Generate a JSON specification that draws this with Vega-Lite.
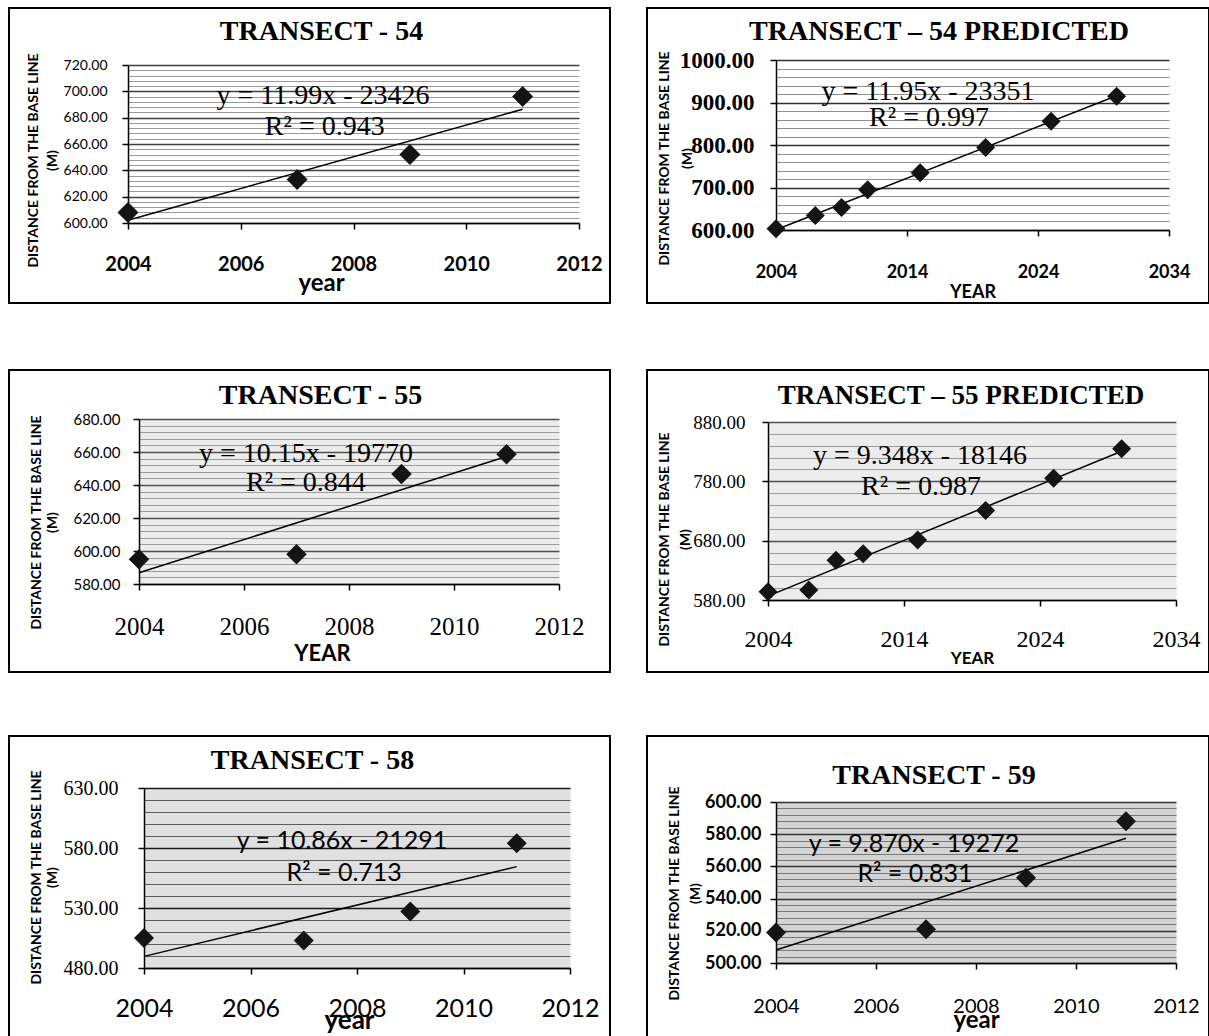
{
  "$schema": "https://vega.github.io/schema/vega-lite/v6.json",
  "background": "white",
  "padding": {"left": 8, "top": 7, "right": 0, "bottom": 0},
  "config": {"view": {"stroke": "black", "strokeWidth": 2, "fill": "white"}},
  "datasets": {
    "t54": [{"year": 2004, "d": 608}, {"year": 2007, "d": 633}, {"year": 2009, "d": 652}, {"year": 2011, "d": 696}],
    "t54p": [{"year": 2004, "d": 603}, {"year": 2007, "d": 634}, {"year": 2009, "d": 653}, {"year": 2011, "d": 695}, {"year": 2015, "d": 735}, {"year": 2020, "d": 794}, {"year": 2025, "d": 856}, {"year": 2030, "d": 915}],
    "t55": [{"year": 2004, "d": 595}, {"year": 2007, "d": 598}, {"year": 2009, "d": 646.6}, {"year": 2011, "d": 658.7}],
    "t55p": [{"year": 2004, "d": 594}, {"year": 2007, "d": 597}, {"year": 2009, "d": 647}, {"year": 2011, "d": 658}, {"year": 2015, "d": 681}, {"year": 2020, "d": 731}, {"year": 2025, "d": 785}, {"year": 2030, "d": 835}],
    "t58": [{"year": 2004, "d": 505}, {"year": 2007, "d": 503}, {"year": 2009, "d": 527}, {"year": 2011, "d": 584}],
    "t59": [{"year": 2004, "d": 519}, {"year": 2007, "d": 521}, {"year": 2009, "d": 553}, {"year": 2011, "d": 588}],
    "eqs": [
      {"panel": "54", "line1": "y = 11.99x - 23426", "line2": "R² = 0.943"},
      {"panel": "54p", "line1": "y = 11.95x - 23351", "line2": "R² = 0.997"},
      {"panel": "55", "line1": "y = 10.15x - 19770", "line2": "R² = 0.844"},
      {"panel": "55p", "line1": "y = 9.348x - 18146", "line2": "R² = 0.987"},
      {"panel": "58", "line1": "y = 10.86x - 21291", "line2": "R² = 0.713"},
      {"panel": "59", "line1": "y = 9.870x - 19272", "line2": "R² = 0.831"}
    ]
  },
  "spacing": 65,
  "vconcat": [
    {
      "spacing": 35,
      "hconcat": [
        {
          "width": 601, "height": 295,
          "title": {"text": "TRANSECT  - 54", "font": "Liberation Serif", "fontSize": 28, "fontWeight": "bold", "color": "black", "anchor": "middle", "frame": "group", "dx": 12, "offset": -60, "baseline": "alphabetic"},
          "layer": [
            {
              "data": {"name": "t54"},
              "transform": [{"regression": "d", "on": "year"}],
              "mark": {"type": "line", "color": "black", "strokeWidth": 1.5},
              "encoding": {
                "x": {"field": "year", "type": "quantitative",
                  "scale": {"domain": [2004, 2012], "range": [119, 570], "nice": false, "zero": false},
                  "axis": {"values": [2004, 2006, 2008, 2010, 2012], "tickCount": 100, "format": "d", "offset": -80, "grid": false,
                    "labelFont": "Lato", "labelFontSize": 20, "labelFontWeight": "bold", "labelColor": "black", "labelPadding": 25, "labelFlush": false, "labelOverlap": false,
                    "tickSize": 6, "tickColor": "black", "tickWidth": 1.5, "domainColor": "black", "domainWidth": 1.5,
                    "title": "year", "titleFont": "Lato", "titleFontSize": 24, "titleFontWeight": "bold", "titleColor": "black", "titleX": 312, "titleY": 67, "titleBaseline": "alphabetic"}},
                "y": {"field": "d", "type": "quantitative",
                  "scale": {"domain": [600, 720], "range": [215, 57], "nice": false, "zero": false},
                  "axis": {"values": [600,604,608,612,616,620,624,628,632,636,640,644,648,652,656,660,664,668,672,676,680,684,688,692,696,700,704,708,712,716,720],
                    "tickCount": 100, "offset": -119, "grid": true,
                    "gridColor": {"condition": {"test": "datum.value % 20 === 0", "value": "#404040"}, "value": "#9a9a9a"},
                    "gridWidth": {"condition": {"test": "datum.value % 20 === 0", "value": 1.5}, "value": 1.2},
                    "labelExpr": "datum.value % 20 === 0 ? format(datum.value, '.2f') : ''",
                    "labelFont": "Lato", "labelFontSize": 14, "labelColor": "black", "labelPadding": 15, "labelOverlap": false,
                    "tickSize": 6, "tickColor": "black", "tickWidth": 1.5,
                    "tickOpacity": {"condition": {"test": "datum.value % 20 === 0", "value": 1}, "value": 0},
                    "domainColor": "black", "domainWidth": 1.5,
                    "title": ["DISTANCE FROM THE BASE LINE", "(M)"], "titleFont": "Lato", "titleFontSize": 14, "titleFontWeight": "bold", "titleColor": "black",
                    "titleX": -95, "titleY": 152, "titleBaseline": "middle", "titleLineHeight": 19}}
              }
            },
            {
              "data": {"name": "t54"},
              "mark": {"type": "point", "shape": "diamond", "filled": true, "size": 441, "color": "#141414", "opacity": 1},
              "encoding": {"x": {"field": "year", "type": "quantitative"}, "y": {"field": "d", "type": "quantitative"}}
            },
            {
              "data": {"name": "eqs"}, "transform": [{"filter": "datum.panel === '54'"}],
              "mark": {"type": "text", "font": "Liberation Serif", "fontSize": 28, "color": "black", "align": "center", "baseline": "alphabetic"},
              "encoding": {"x": {"datum": 2007.46, "type": "quantitative"}, "y": {"datum": 690.4, "type": "quantitative"}, "text": {"field": "line1"}}
            },
            {
              "data": {"name": "eqs"}, "transform": [{"filter": "datum.panel === '54'"}],
              "mark": {"type": "text", "font": "Liberation Serif", "fontSize": 28, "color": "black", "align": "center", "baseline": "alphabetic"},
              "encoding": {"x": {"datum": 2007.49, "type": "quantitative"}, "y": {"datum": 666.8, "type": "quantitative"}, "text": {"field": "line2"}}
            }
          ]
        },
        {
          "width": 562, "height": 295,
          "title": {"text": "TRANSECT – 54 PREDICTED", "font": "Liberation Serif", "fontSize": 28, "fontWeight": "bold", "color": "black", "anchor": "middle", "frame": "group", "dx": 11, "offset": -60, "baseline": "alphabetic"},
          "layer": [
            {
              "data": {"name": "t54p"},
              "transform": [{"regression": "d", "on": "year"}],
              "mark": {"type": "line", "color": "black", "strokeWidth": 1.5},
              "encoding": {
                "x": {"field": "year", "type": "quantitative",
                  "scale": {"domain": [2004, 2034], "range": [129, 522], "nice": false, "zero": false},
                  "axis": {"values": [2004, 2014, 2024, 2034], "tickCount": 100, "format": "d", "offset": -73, "grid": false,
                    "labelFont": "Lato", "labelFontSize": 18, "labelFontWeight": "bold", "labelColor": "black", "labelPadding": 27, "labelFlush": false, "labelOverlap": false,
                    "tickSize": 6, "tickColor": "black", "tickWidth": 1.5, "domainColor": "black", "domainWidth": 1.5,
                    "title": "YEAR", "titleFont": "Lato", "titleFontSize": 18, "titleFontWeight": "bold", "titleColor": "black", "titleY": 67, "titleBaseline": "alphabetic"}},
                "y": {"field": "d", "type": "quantitative",
                  "scale": {"domain": [600, 1000], "range": [222, 52], "nice": false, "zero": false},
                  "axis": {"values": [600,620,640,660,680,700,720,740,760,780,800,820,840,860,880,900,920,940,960,980,1000],
                    "tickCount": 100, "offset": -129, "grid": true,
                    "gridColor": {"condition": {"test": "datum.value % 100 === 0", "value": "#303030"}, "value": "#8f8f8f"},
                    "gridWidth": {"condition": {"test": "datum.value % 100 === 0", "value": 1.5}, "value": 1.2},
                    "labelExpr": "datum.value % 100 === 0 ? format(datum.value, '.2f') : ''",
                    "labelFont": "Liberation Serif", "labelFontSize": 23, "labelFontWeight": "bold", "labelColor": "black", "labelPadding": 16, "labelOverlap": false,
                    "tickSize": 6, "tickColor": "black", "tickWidth": 1.5,
                    "tickOpacity": {"condition": {"test": "datum.value % 100 === 0", "value": 1}, "value": 0},
                    "domainColor": "black", "domainWidth": 1.5,
                    "title": ["DISTANCE FROM THE BASE LINE", "(M)"], "titleFont": "Lato", "titleFontSize": 14, "titleFontWeight": "bold", "titleColor": "black",
                    "titleX": -112, "titleY": 150, "titleBaseline": "middle", "titleLineHeight": 23}}
              }
            },
            {
              "data": {"name": "t54p"},
              "mark": {"type": "point", "shape": "diamond", "filled": true, "size": 361, "color": "#141414", "opacity": 1},
              "encoding": {"x": {"field": "year", "type": "quantitative"}, "y": {"field": "d", "type": "quantitative"}}
            },
            {
              "data": {"name": "eqs"}, "transform": [{"filter": "datum.panel === '54p'"}],
              "mark": {"type": "text", "font": "Liberation Serif", "fontSize": 28, "color": "black", "align": "center", "baseline": "alphabetic"},
              "encoding": {"x": {"datum": 2015.6, "type": "quantitative"}, "y": {"datum": 905.9, "type": "quantitative"}, "text": {"field": "line1"}}
            },
            {
              "data": {"name": "eqs"}, "transform": [{"filter": "datum.panel === '54p'"}],
              "mark": {"type": "text", "font": "Liberation Serif", "fontSize": 28, "color": "black", "align": "center", "baseline": "alphabetic"},
              "encoding": {"x": {"datum": 2015.68, "type": "quantitative"}, "y": {"datum": 844.7, "type": "quantitative"}, "text": {"field": "line2"}}
            }
          ]
        }
      ]
    },
    {
      "spacing": 62,
      "vconcat": [
        {
          "spacing": 35,
          "hconcat": [
            {
              "width": 601, "height": 302,
              "title": {"text": "TRANSECT  - 55", "font": "Liberation Serif", "fontSize": 28, "fontWeight": "bold", "color": "black", "anchor": "middle", "frame": "group", "dx": 11, "offset": -62, "baseline": "alphabetic"},
              "resolve": {"axis": {"y": "independent"}},
              "layer": [
                {
                  "data": {"name": "t55"},
                  "transform": [{"regression": "d", "on": "year"}],
                  "mark": {"type": "line", "color": "black", "strokeWidth": 1.5},
                  "encoding": {
                    "x": {"field": "year", "type": "quantitative",
                      "scale": {"domain": [2004, 2012], "range": [130, 550], "nice": false, "zero": false},
                      "axis": {"values": [2004, 2006, 2008, 2010, 2012], "tickCount": 100, "format": "d", "offset": -88, "grid": false,
                        "labelFont": "Liberation Serif", "labelFontSize": 25, "labelColor": "black", "labelPadding": 24, "labelFlush": false, "labelOverlap": false,
                        "tickSize": 6, "tickColor": "black", "tickWidth": 1.5, "domainColor": "black", "domainWidth": 1.5,
                        "title": "YEAR", "titleFont": "Lato", "titleFontSize": 22, "titleFontWeight": "bold", "titleColor": "black", "titleX": 313, "titleY": 76, "titleBaseline": "alphabetic"}},
                    "y": {"field": "d", "type": "quantitative",
                      "scale": {"domain": [580, 680], "range": [214, 49], "nice": false, "zero": false},
                      "axis": {"orient": "left", "values": [630], "tickCount": 100, "offset": -130, "grid": true, "gridColor": "#ececec", "gridWidth": 165,
                        "domain": false, "ticks": false, "labels": false, "title": null}}
                  }
                },
                {
                  "data": {"name": "t55"},
                  "mark": {"type": "point", "shape": "diamond", "filled": true, "size": 420, "color": "#141414", "opacity": 1},
                  "encoding": {
                    "x": {"field": "year", "type": "quantitative"},
                    "y": {"field": "d", "type": "quantitative",
                      "axis": {"orient": "left", "values": [580,584,588,592,596,600,604,608,612,616,620,624,628,632,636,640,644,648,652,656,660,664,668,672,676,680],
                        "tickCount": 100, "offset": -130, "grid": true,
                        "gridColor": {"condition": {"test": "datum.value % 20 === 0", "value": "#505050"}, "value": "#9a9a9a"},
                        "gridWidth": {"condition": {"test": "datum.value % 20 === 0", "value": 1.5}, "value": 1.2},
                        "labelExpr": "datum.value % 20 === 0 ? format(datum.value, '.2f') : ''",
                        "labelFont": "Lato", "labelFontSize": 15, "labelColor": "black", "labelPadding": 13, "labelOverlap": false,
                        "tickSize": 6, "tickColor": "black", "tickWidth": 1.5,
                        "tickOpacity": {"condition": {"test": "datum.value % 20 === 0", "value": 1}, "value": 0},
                        "domainColor": "black", "domainWidth": 1.5,
                        "title": ["DISTANCE FROM THE BASE LINE", "(M)"], "titleFont": "Lato", "titleFontSize": 14, "titleFontWeight": "bold", "titleColor": "black",
                        "titleX": -103, "titleY": 152, "titleBaseline": "middle", "titleLineHeight": 16}}
                  }
                },
                {
                  "data": {"name": "eqs"}, "transform": [{"filter": "datum.panel === '55'"}],
                  "mark": {"type": "text", "font": "Liberation Serif", "fontSize": 28, "color": "black", "align": "center", "baseline": "alphabetic"},
                  "encoding": {"x": {"datum": 2007.18, "type": "quantitative"}, "y": {"datum": 653.9, "type": "quantitative", "axis": null}, "text": {"field": "line1"}}
                },
                {
                  "data": {"name": "eqs"}, "transform": [{"filter": "datum.panel === '55'"}],
                  "mark": {"type": "text", "font": "Liberation Serif", "fontSize": 28, "color": "black", "align": "center", "baseline": "alphabetic"},
                  "encoding": {"x": {"datum": 2007.18, "type": "quantitative"}, "y": {"datum": 636.4, "type": "quantitative", "axis": null}, "text": {"field": "line2"}}
                }
              ]
            },
            {
              "width": 562, "height": 302,
              "title": {"text": "TRANSECT – 55 PREDICTED", "font": "Liberation Serif", "fontSize": 27, "fontWeight": "bold", "color": "black", "anchor": "middle", "frame": "group", "dx": 33, "offset": -61, "baseline": "alphabetic"},
              "resolve": {"axis": {"y": "independent"}},
              "layer": [
                {
                  "data": {"name": "t55p"},
                  "transform": [{"regression": "d", "on": "year"}],
                  "mark": {"type": "line", "color": "black", "strokeWidth": 1.5},
                  "encoding": {
                    "x": {"field": "year", "type": "quantitative",
                      "scale": {"domain": [2004, 2034], "range": [121, 529], "nice": false, "zero": false},
                      "axis": {"values": [2004, 2014, 2024, 2034], "tickCount": 100, "format": "d", "offset": -72, "grid": false,
                        "labelFont": "Liberation Serif", "labelFontSize": 24, "labelColor": "black", "labelPadding": 21, "labelFlush": false, "labelOverlap": false,
                        "tickSize": 6, "tickColor": "black", "tickWidth": 1.5, "domainColor": "black", "domainWidth": 1.5,
                        "title": "YEAR", "titleFont": "Lato", "titleFontSize": 17, "titleFontWeight": "bold", "titleColor": "black", "titleY": 63, "titleBaseline": "alphabetic"}},
                    "y": {"field": "d", "type": "quantitative",
                      "scale": {"domain": [580, 880], "range": [230, 52], "nice": false, "zero": false},
                      "axis": {"orient": "left", "values": [730], "tickCount": 100, "offset": -121, "grid": true, "gridColor": "#ececec", "gridWidth": 178,
                        "domain": false, "ticks": false, "labels": false, "title": null}}
                  }
                },
                {
                  "data": {"name": "t55p"},
                  "mark": {"type": "point", "shape": "diamond", "filled": true, "size": 361, "color": "#141414", "opacity": 1},
                  "encoding": {
                    "x": {"field": "year", "type": "quantitative"},
                    "y": {"field": "d", "type": "quantitative",
                      "axis": {"orient": "left", "values": [580,600,620,640,660,680,700,720,740,760,780,800,820,840,860,880],
                        "tickCount": 100, "offset": -121, "grid": true,
                        "gridColor": {"condition": {"test": "(datum.value - 580) % 100 === 0", "value": "#505050"}, "value": "#999999"},
                        "gridWidth": {"condition": {"test": "(datum.value - 580) % 100 === 0", "value": 1.5}, "value": 1.2},
                        "labelExpr": "(datum.value - 580) % 100 === 0 ? format(datum.value, '.2f') : ''",
                        "labelFont": "Liberation Serif", "labelFontSize": 19, "labelColor": "black", "labelPadding": 17, "labelOverlap": false,
                        "tickSize": 6, "tickColor": "black", "tickWidth": 1.5,
                        "tickOpacity": {"condition": {"test": "(datum.value - 580) % 100 === 0", "value": 1}, "value": 0},
                        "domainColor": "black", "domainWidth": 1.5,
                        "title": ["DISTANCE FROM THE BASE LINE", "(M)"], "titleFont": "Lato", "titleFontSize": 14, "titleFontWeight": "bold", "titleColor": "black",
                        "titleX": -104, "titleY": 169, "titleBaseline": "middle", "titleLineHeight": 21}}
                  }
                },
                {
                  "data": {"name": "eqs"}, "transform": [{"filter": "datum.panel === '55p'"}],
                  "mark": {"type": "text", "font": "Liberation Serif", "fontSize": 28, "color": "black", "align": "center", "baseline": "alphabetic"},
                  "encoding": {"x": {"datum": 2015.18, "type": "quantitative"}, "y": {"datum": 809.2, "type": "quantitative", "axis": null}, "text": {"field": "line1"}}
                },
                {
                  "data": {"name": "eqs"}, "transform": [{"filter": "datum.panel === '55p'"}],
                  "mark": {"type": "text", "font": "Liberation Serif", "fontSize": 28, "color": "black", "align": "center", "baseline": "alphabetic"},
                  "encoding": {"x": {"datum": 2015.25, "type": "quantitative"}, "y": {"datum": 757.0, "type": "quantitative", "axis": null}, "text": {"field": "line2"}}
                }
              ]
            }
          ]
        },
        {
          "spacing": 35,
          "hconcat": [
            {
              "width": 601, "height": 302,
              "title": {"text": "TRANSECT  - 58", "font": "Liberation Serif", "fontSize": 28, "fontWeight": "bold", "color": "black", "anchor": "middle", "frame": "group", "dx": 3, "offset": -61, "baseline": "alphabetic"},
              "resolve": {"axis": {"y": "independent"}},
              "layer": [
                {
                  "data": {"name": "t58"},
                  "transform": [{"regression": "d", "on": "year"}],
                  "mark": {"type": "line", "color": "black", "strokeWidth": 1.5},
                  "encoding": {
                    "x": {"field": "year", "type": "quantitative",
                      "scale": {"domain": [2004, 2012], "range": [135, 561], "nice": false, "zero": false},
                      "axis": {"values": [2004, 2006, 2008, 2010, 2012], "tickCount": 100, "format": "d", "offset": -70, "grid": false,
                        "labelFont": "Lato", "labelFontSize": 25, "labelColor": "black", "labelPadding": 22, "labelFlush": false, "labelOverlap": false,
                        "tickSize": 6, "tickColor": "black", "tickWidth": 1.5, "domainColor": "black", "domainWidth": 1.5,
                        "title": "year", "titleFont": "Lato", "titleFontSize": 26, "titleFontWeight": "bold", "titleColor": "black", "titleX": 340, "titleY": 60, "titleBaseline": "alphabetic"}},
                    "y": {"field": "d", "type": "quantitative",
                      "scale": {"domain": [480, 630], "range": [232, 52], "nice": false, "zero": false},
                      "axis": {"orient": "left", "values": [555], "tickCount": 100, "offset": -135, "grid": true, "gridColor": "#e0e0e0", "gridWidth": 180,
                        "domain": false, "ticks": false, "labels": false, "title": null}}
                  }
                },
                {
                  "data": {"name": "t58"},
                  "mark": {"type": "point", "shape": "diamond", "filled": true, "size": 400, "color": "#141414", "opacity": 1},
                  "encoding": {
                    "x": {"field": "year", "type": "quantitative"},
                    "y": {"field": "d", "type": "quantitative",
                      "axis": {"orient": "left", "values": [480,490,500,510,520,530,540,550,560,570,580,590,600,610,620,630],
                        "tickCount": 100, "offset": -135, "grid": true,
                        "gridColor": {"condition": {"test": "(datum.value - 480) % 50 === 0", "value": "#1a1a1a"}, "value": "#5a5a5a"},
                        "gridWidth": {"condition": {"test": "(datum.value - 480) % 50 === 0", "value": 1.5}, "value": 1.2},
                        "labelExpr": "(datum.value - 480) % 50 === 0 ? format(datum.value, '.2f') : ''",
                        "labelFont": "Liberation Serif", "labelFontSize": 20, "labelColor": "black", "labelPadding": 20, "labelOverlap": false,
                        "tickSize": 6, "tickColor": "black", "tickWidth": 1.5,
                        "tickOpacity": {"condition": {"test": "(datum.value - 480) % 50 === 0", "value": 1}, "value": 0},
                        "domainColor": "black", "domainWidth": 1.5,
                        "title": ["DISTANCE FROM THE BASE LINE", "(M)"], "titleFont": "Lato", "titleFontSize": 14, "titleFontWeight": "bold", "titleColor": "black",
                        "titleX": -108, "titleY": 141, "titleBaseline": "middle", "titleLineHeight": 16}}
                  }
                },
                {
                  "data": {"name": "eqs"}, "transform": [{"filter": "datum.panel === '58'"}],
                  "mark": {"type": "text", "font": "Lato", "fontSize": 25, "color": "black", "align": "center", "baseline": "alphabetic"},
                  "encoding": {"x": {"datum": 2007.72, "type": "quantitative"}, "y": {"datum": 579.2, "type": "quantitative", "axis": null}, "text": {"field": "line1"}}
                },
                {
                  "data": {"name": "eqs"}, "transform": [{"filter": "datum.panel === '58'"}],
                  "mark": {"type": "text", "font": "Lato", "fontSize": 25, "color": "black", "align": "center", "baseline": "alphabetic"},
                  "encoding": {"x": {"datum": 2007.76, "type": "quantitative"}, "y": {"datum": 552.5, "type": "quantitative", "axis": null}, "text": {"field": "line2"}}
                }
              ]
            },
            {
              "width": 562, "height": 302,
              "title": {"text": "TRANSECT  - 59", "font": "Liberation Serif", "fontSize": 28, "fontWeight": "bold", "color": "black", "anchor": "middle", "frame": "group", "dx": 6, "offset": -76, "baseline": "alphabetic"},
              "resolve": {"axis": {"y": "independent"}},
              "layer": [
                {
                  "data": {"name": "t59"},
                  "transform": [{"regression": "d", "on": "year"}],
                  "mark": {"type": "line", "color": "black", "strokeWidth": 1.5},
                  "encoding": {
                    "x": {"field": "year", "type": "quantitative",
                      "scale": {"domain": [2004, 2012], "range": [129, 529], "nice": false, "zero": false},
                      "axis": {"values": [2004, 2006, 2008, 2010, 2012], "tickCount": 100, "format": "d", "offset": -75, "grid": false,
                        "labelFont": "Lato", "labelFontSize": 20, "labelColor": "black", "labelPadding": 27, "labelFlush": false, "labelOverlap": false,
                        "tickSize": 6, "tickColor": "black", "tickWidth": 1.5, "domainColor": "black", "domainWidth": 1.5,
                        "title": "year", "titleFont": "Lato", "titleFontSize": 24, "titleFontWeight": "bold", "titleColor": "black", "titleY": 64, "titleBaseline": "alphabetic"}},
                    "y": {"field": "d", "type": "quantitative",
                      "scale": {"domain": [500, 600], "range": [227, 66], "nice": false, "zero": false},
                      "axis": {"orient": "left", "values": [550], "tickCount": 100, "offset": -129, "grid": true, "gridColor": "#d4d4d4", "gridWidth": 161,
                        "domain": false, "ticks": false, "labels": false, "title": null}}
                  }
                },
                {
                  "data": {"name": "t59"},
                  "mark": {"type": "point", "shape": "diamond", "filled": true, "size": 400, "color": "#141414", "opacity": 1},
                  "encoding": {
                    "x": {"field": "year", "type": "quantitative"},
                    "y": {"field": "d", "type": "quantitative",
                      "axis": {"orient": "left", "values": [500,504,508,512,516,520,524,528,532,536,540,544,548,552,556,560,564,568,572,576,580,584,588,592,596,600],
                        "tickCount": 100, "offset": -129, "grid": true,
                        "gridColor": {"condition": {"test": "datum.value % 20 === 0", "value": "#333333"}, "value": "#777777"},
                        "gridWidth": {"condition": {"test": "datum.value % 20 === 0", "value": 1.5}, "value": 1.2},
                        "labelExpr": "datum.value % 20 === 0 ? format(datum.value, '.2f') : ''",
                        "labelFont": "Lato", "labelFontSize": 18, "labelFontWeight": "bold", "labelColor": "black", "labelPadding": 9, "labelOverlap": false,
                        "tickSize": 6, "tickColor": "black", "tickWidth": 1.5,
                        "tickOpacity": {"condition": {"test": "datum.value % 20 === 0", "value": 1}, "value": 0},
                        "domainColor": "black", "domainWidth": 1.5,
                        "title": ["DISTANCE FROM THE BASE LINE", "(M)"], "titleFont": "Lato", "titleFontSize": 14, "titleFontWeight": "bold", "titleColor": "black",
                        "titleX": -102, "titleY": 157, "titleBaseline": "middle", "titleLineHeight": 21}}
                  }
                },
                {
                  "data": {"name": "eqs"}, "transform": [{"filter": "datum.panel === '59'"}],
                  "mark": {"type": "text", "font": "Lato", "fontSize": 25, "color": "black", "align": "center", "baseline": "alphabetic"},
                  "encoding": {"x": {"datum": 2006.76, "type": "quantitative"}, "y": {"datum": 568.9, "type": "quantitative", "axis": null}, "text": {"field": "line1"}}
                },
                {
                  "data": {"name": "eqs"}, "transform": [{"filter": "datum.panel === '59'"}],
                  "mark": {"type": "text", "font": "Lato", "fontSize": 25, "color": "black", "align": "center", "baseline": "alphabetic"},
                  "encoding": {"x": {"datum": 2006.78, "type": "quantitative"}, "y": {"datum": 550.3, "type": "quantitative", "axis": null}, "text": {"field": "line2"}}
                }
              ]
            }
          ]
        }
      ]
    }
  ]
}
